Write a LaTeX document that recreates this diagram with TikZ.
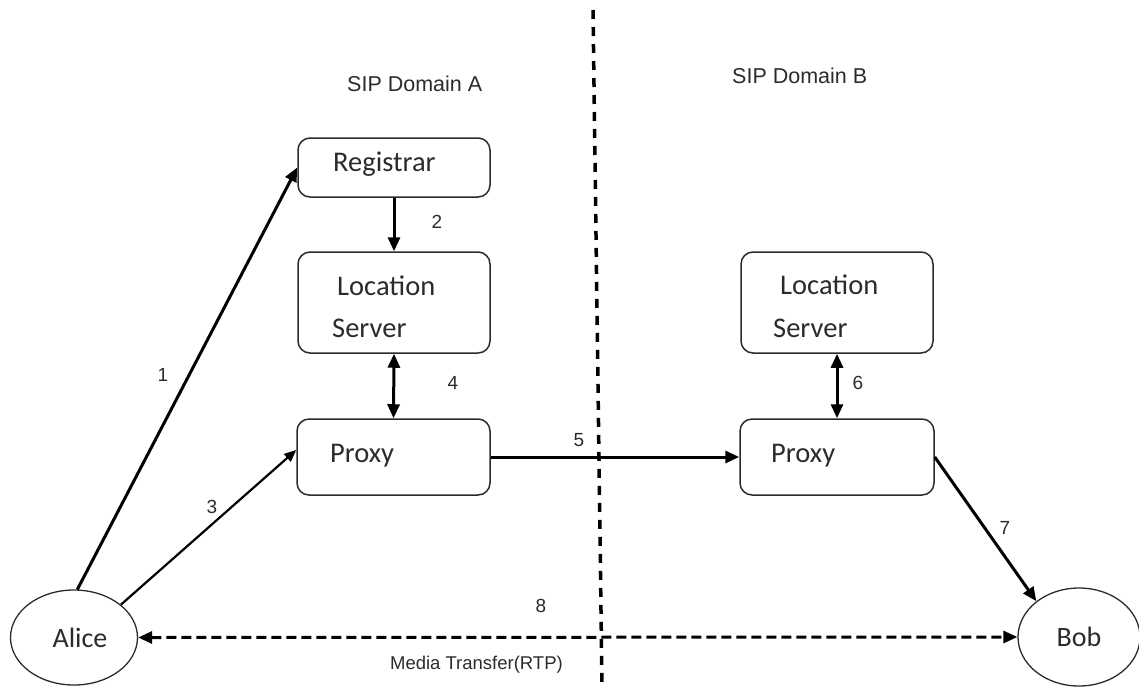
\documentclass[tikz,border=0pt]{standalone}
\usepackage{fontspec}
\newfontfamily\boxfont{Carlito}
\newfontfamily\labfont{Liberation Sans}
\usetikzlibrary{arrows.meta,shapes.geometric,calc}
\definecolor{ink}{HTML}{2B2B2B}
\tikzset{
  entity/.style={draw=ink, line width=1.5pt, rounded corners=12pt, inner sep=0pt},
  party/.style={draw=ink, line width=1.3pt, ellipse, inner sep=0pt,
    font=\boxfont\fontsize{28}{30}\selectfont, text=ink},
  boxtext/.style={anchor=base west, inner sep=0pt,
    font=\boxfont\fontsize{28.5}{30}\selectfont, text=ink},
  steplabel/.style={inner sep=0pt, font=\labfont\fontsize{19}{20}\selectfont, text=ink},
  domtitle/.style={anchor=base west, inner sep=0pt,
    font=\labfont\fontsize{21.5}{24}\selectfont, text=ink},
  mediacap/.style={anchor=base east, inner sep=0pt,
    font=\labfont\fontsize{18.5}{20}\selectfont, text=ink},
  flow/.style={line width=3pt, -{Triangle[length=14pt,width=12pt]}},
  flowthin/.style={line width=2.2pt, -{Triangle[length=12pt,width=10pt]}},
  exchange/.style={line width=3pt,
    {Triangle[length=14pt,width=12pt]}-{Triangle[length=14pt,width=12pt]}},
  media/.style={line width=3pt, dash pattern=on 10pt off 5pt,
    {Triangle[length=14pt,width=12pt]}-{Triangle[length=14pt,width=12pt]}},
  divider/.style={line width=3.5pt, dash pattern=on 9pt off 8pt}
}
\begin{document}
\begin{tikzpicture}[x=1pt,y=-1pt]
\useasboundingbox (0,0) rectangle (1139,686);

% domain boundary
\coordinate (divtop) at (593,10);
\coordinate (divbot) at (602,686);
\draw[divider] (divtop) -- (divbot);

% domain titles
\node[domtitle] (domA) at (347,91) {SIP Domain A};
\node[domtitle] (domB) at (732,83) {SIP Domain B};

% servers of domain A
\node[entity, minimum width=192pt, minimum height=59pt] (reg) at (394,167.5) {};
\node[entity, minimum width=192pt, minimum height=101pt] (locA) at (394,302.5) {};
\node[entity, minimum width=193pt, minimum height=76pt] (proxA) at (393.5,457) {};
\node[boxtext] (regtxt) at (333,171) {Registrar};
\node[boxtext] (locAtxt1) at (337,295) {Location};
\node[boxtext] (locAtxt2) at (332,337) {Server};
\node[boxtext] (proxAtxt) at (330,462) {Proxy};

% servers of domain B
\node[entity, minimum width=192pt, minimum height=101pt] (locB) at (837,302.5) {};
\node[entity, minimum width=194pt, minimum height=76pt] (proxB) at (837,457) {};
\node[boxtext] (locBtxt1) at (780,294) {Location};
\node[boxtext] (locBtxt2) at (773,337) {Server};
\node[boxtext] (proxBtxt) at (771,462) {Proxy};

% user agents
\node[party, minimum width=127pt, minimum height=95pt] (alice) at (74,637.5) {\hspace*{12pt}Alice};
\node[party, minimum width=122pt, minimum height=98pt] (bob) at (1079,637) {Bob};

% signalling steps
\draw[flow] (alice.86) -- (reg.west);
\draw[flow] (reg.south) -- (locA.north);
\draw[flowthin] (alice.35) -- ($(proxA.west)+(0,-7)$);
\draw[exchange] (locA.south) -- (proxA.north);
\draw[flow] (proxA.east) -- (proxB.west);
\draw[exchange] (locB.south) -- (proxB.north);
\draw[flow] (proxB.east) -- (bob.140);
\draw[media] (alice.east) -- (bob.west);

% step numbers
\node[steplabel] (n1) at (163,375) {1};
\node[steplabel] (n2) at (437,222) {2};
\node[steplabel] (n3) at (212,507) {3};
\node[steplabel] (n4) at (453,383) {4};
\node[steplabel] (n5) at (579,440) {5};
\node[steplabel] (n6) at (858,383) {6};
\node[steplabel] (n7) at (1005,528) {7};
\node[steplabel] (n8) at (541,606) {8};
\node[mediacap] (rtp) at (563,669) {Media Transfer(RTP)};
\end{tikzpicture}
\end{document}
